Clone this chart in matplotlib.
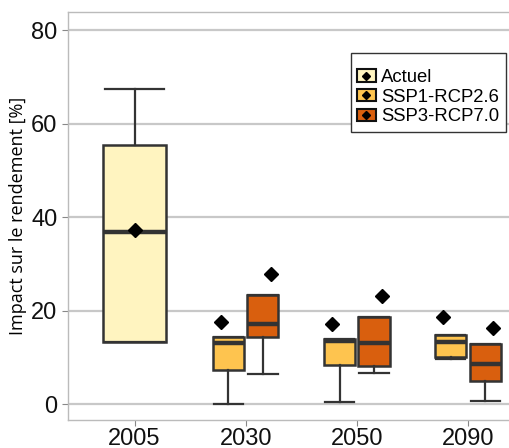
import matplotlib
matplotlib.use("Agg")
import matplotlib.pyplot as plt
import matplotlib.patches as mpatches
from matplotlib.lines import Line2D
from matplotlib.legend_handler import HandlerTuple

plt.rcParams["font.family"] = ["Liberation Sans", "DejaVu Sans"]

years = ["2005", "2030", "2050", "2090"]

# Actuel (2005 only)
act_whislo = [13.3]
act_q1 = [13.3]
act_med = [36.8]
act_q3 = [55.5]
act_whishi = [67.3]
act_mean = [37.3]

# SSP1-RCP2.6 (2030, 2050, 2090)
ssp1_whislo = [0.0, 0.4, 9.6]
ssp1_q1 = [7.3, 8.3, 10.0]
ssp1_med = [13.0, 13.4, 13.3]
ssp1_q3 = [14.3, 13.9, 14.8]
ssp1_whishi = [14.3, 13.9, 14.8]
ssp1_mean = [17.5, 17.1, 18.6]

# SSP3-RCP7.0 (2030, 2050, 2090)
ssp3_whislo = [6.4, 6.6, 0.6]
ssp3_q1 = [14.3, 8.1, 4.9]
ssp3_med = [17.1, 13.1, 8.6]
ssp3_q3 = [23.3, 18.6, 12.8]
ssp3_whishi = [23.3, 18.6, 12.8]
ssp3_mean = [27.8, 23.1, 16.3]

COLORS = {"Actuel": "#FFF4C0", "SSP1-RCP2.6": "#FEC44F", "SSP3-RCP7.0": "#D95F0E"}
EDGE = "#333333"


def stats(lo, q1, med, q3, hi):
    return [dict(whislo=a, q1=b, med=c, q3=d, whishi=e, fliers=[])
            for a, b, c, d, e in zip(lo, q1, med, q3, hi)]


fig = plt.figure(figsize=(5.1, 4.48), dpi=100)
ax = fig.add_axes([0.133, 0.0625, 0.9, 0.911])

box_kw = dict(patch_artist=True, showfliers=False,
              boxprops=dict(edgecolor=EDGE, linewidth=1.8),
              medianprops=dict(color=EDGE, linewidth=3.2),
              whiskerprops=dict(color=EDGE, linewidth=1.6),
              capprops=dict(color=EDGE, linewidth=1.6))

# (name, box positions, box width, stats, mean positions, means)
groups = [
    ("Actuel", [0], 0.56,
     stats(act_whislo, act_q1, act_med, act_q3, act_whishi), [0], act_mean),
    ("SSP1-RCP2.6", [0.845, 1.845, 2.845], 0.28,
     stats(ssp1_whislo, ssp1_q1, ssp1_med, ssp1_q3, ssp1_whishi),
     [0.775, 1.775, 2.775], ssp1_mean),
    ("SSP3-RCP7.0", [1.155, 2.155, 3.155], 0.28,
     stats(ssp3_whislo, ssp3_q1, ssp3_med, ssp3_q3, ssp3_whishi),
     [1.23, 2.23, 3.23], ssp3_mean),
]

for name, pos, w, st, mpos, mean in groups:
    bp = ax.bxp(st, positions=pos, widths=w, **box_kw)
    for b in bp["boxes"]:
        b.set_facecolor(COLORS[name])
    for c in bp["caps"]:
        # caps a bit wider than default
        x = c.get_xdata()
        mid = (x[0] + x[1]) / 2
        c.set_xdata([mid - w * 0.47, mid + w * 0.47])
    ax.plot(mpos, mean, "D", color="black", markersize=7, zorder=5)

ax.set_xlim(-0.6, 3.53)
ax.set_ylim(-3.4, 83.9)
ax.set_xticks(range(len(years)))
ax.set_xticklabels(years)
ax.set_yticks([0, 20, 40, 60, 80])
ax.yaxis.grid(True, color="#C8C8C8", linewidth=1.6)
ax.set_axisbelow(True)
ax.tick_params(axis="both", labelsize=17, colors="#888888",
               labelcolor="#111111", length=4)
ax.tick_params(axis="x", pad=2)
for s in ax.spines.values():
    s.set_color("#BBBBBB")
    s.set_linewidth(1.0)

ax.set_ylabel("Impact sur le rendement [%]", fontsize=13,
              family=["Open Sans", "DejaVu Sans"], labelpad=3)

handles = []
for name in COLORS:
    p = mpatches.Patch(facecolor=COLORS[name], edgecolor="#111111", linewidth=1.5)
    m = Line2D([], [], marker="D", color="black", linestyle="", markersize=4.5)
    handles.append((p, m))
leg = ax.legend(handles, list(COLORS), handler_map={tuple: HandlerTuple(ndivide=1)},
                loc="upper right", bbox_to_anchor=(0.954, 0.9), fontsize=13.3,
                title=" ", title_fontsize=6,
                frameon=True, fancybox=False, edgecolor="#333333", framealpha=1,
                handlelength=1.0, handleheight=0.65, handletextpad=0.3,
                labelspacing=0.15, borderpad=0.35, borderaxespad=0)

fig.savefig("out.png", dpi=100)
